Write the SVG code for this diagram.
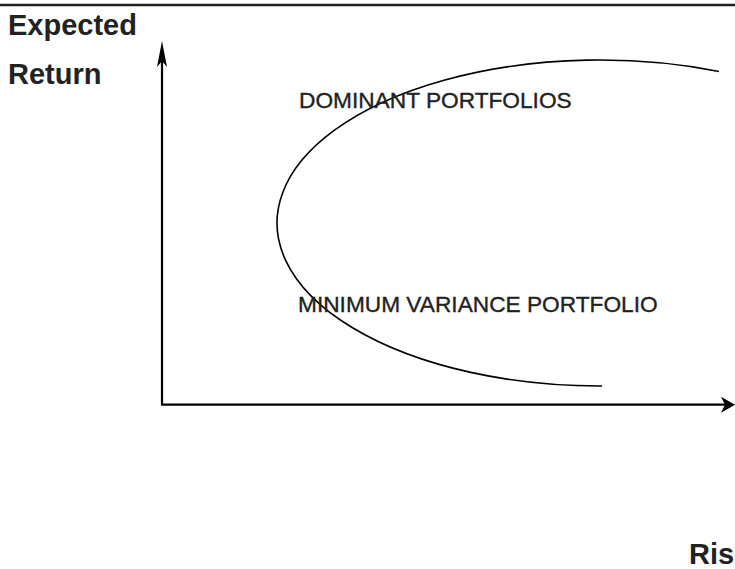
<svg xmlns="http://www.w3.org/2000/svg" width="735" height="569" viewBox="0 0 735 569">
  <style>
    .axis-title { font-family: "Liberation Sans", Arial, sans-serif; font-weight: bold; font-size: 29px; fill: #222; }
    .region-label { font-family: "Liberation Sans", Arial, sans-serif; font-size: 22.7px; fill: #222; stroke: #222; stroke-width: 0.35; }
    .axis { stroke: #000; stroke-width: 2.2; fill: none; }
    .frontier { stroke: #000; stroke-width: 1.6; fill: none; }
    .head { fill: #000; stroke: none; }
  </style>
  <rect width="735" height="569" fill="#fff"/>

  <!-- top rule -->
  <line x1="0" y1="5" x2="735" y2="5" stroke="#222" stroke-width="2.6"/>

  <!-- axis titles -->
  <g id="y-title">
    <text class="axis-title" x="8" y="35">Expected</text>
    <text class="axis-title" x="8" y="84">Return</text>
  </g>
  <g id="x-title">
    <text class="axis-title" x="689" y="564">Ris</text>
  </g>

  <!-- axes and the frontier curve (ellipse centre 600,223; radii 323 x 163) -->
  <g id="connectors">
    <line class="axis" x1="162" y1="405" x2="162" y2="60"/>
    <polygon class="head" points="162,41 167,67 162,61 157,67"/>
    <line class="axis" x1="161" y1="404.7" x2="726" y2="404.7"/>
    <polygon class="head" points="735,404.7 721,396.7 725,404.7 721,412.7"/>
    <path class="frontier" d="M 719 71.46 A 323 163 0 1 0 602 386"/>
  </g>

  <!-- region labels -->
  <g id="dominant">
    <text class="region-label" x="299" y="108">DOMINANT PORTFOLIOS</text>
  </g>
  <g id="min-variance">
    <text class="region-label" x="298" y="312">MINIMUM VARIANCE PORTFOLIO</text>
  </g>
</svg>
